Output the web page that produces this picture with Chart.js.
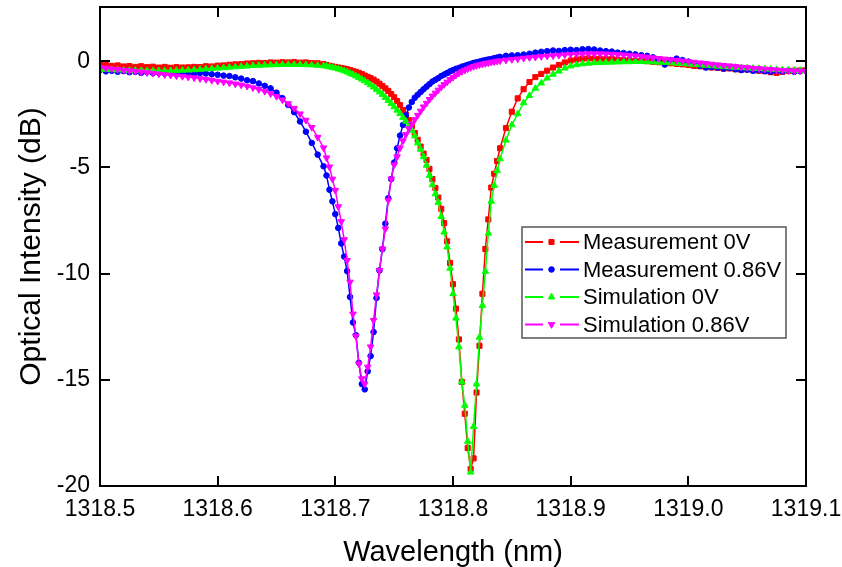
<!DOCTYPE html>
<html>
<head>
<meta charset="utf-8">
<title>Optical Intensity vs Wavelength</title>
<script src="https://cdn.jsdelivr.net/npm/chart.js@4.4.1/dist/chart.umd.min.js"></script>
<style>
  html, body { margin: 0; padding: 0; background: #fff; }
  #spectrum { display: block; }
</style>
</head>
<body>
<canvas id="spectrum" width="842" height="567"></canvas>
<script>
// Resonance dips at 0 V and 0.86 V bias, measured and simulated (dB)

const wavelength = [
  1318.500, 1318.505, 1318.510, 1318.515, 1318.520, 1318.525, 1318.530, 1318.535, 1318.540, 1318.545,
  1318.550, 1318.555, 1318.560, 1318.565, 1318.570, 1318.575, 1318.580, 1318.585, 1318.590, 1318.595,
  1318.600, 1318.605, 1318.610, 1318.615, 1318.620, 1318.625, 1318.630, 1318.635, 1318.640, 1318.645,
  1318.650, 1318.655, 1318.660, 1318.665, 1318.670, 1318.675, 1318.680, 1318.685, 1318.690,
  // finer sampling across both dips
  1318.6925, 1318.6950, 1318.6975, 1318.7000, 1318.7025, 1318.7050, 1318.7075, 1318.7100, 1318.7125, 1318.7150,
  1318.7175, 1318.7200, 1318.7225, 1318.7250, 1318.7275, 1318.7300, 1318.7325, 1318.7350, 1318.7375, 1318.7400,
  1318.7425, 1318.7450, 1318.7475, 1318.7500, 1318.7525, 1318.7550, 1318.7575, 1318.7600, 1318.7625, 1318.7650,
  1318.7675, 1318.7700, 1318.7725, 1318.7750, 1318.7775, 1318.7800, 1318.7825, 1318.7850, 1318.7875, 1318.7900,
  1318.7925, 1318.7950, 1318.7975, 1318.8000, 1318.8025, 1318.8050, 1318.8075, 1318.8100, 1318.8125, 1318.8150,
  1318.8175, 1318.8200, 1318.8225, 1318.8250, 1318.8275, 1318.8300, 1318.8325, 1318.8350, 1318.8375, 1318.8400,
  1318.845, 1318.850, 1318.855, 1318.860, 1318.865, 1318.870, 1318.875, 1318.880, 1318.885, 1318.890,
  1318.895, 1318.900, 1318.905, 1318.910, 1318.915, 1318.920, 1318.925, 1318.930, 1318.935, 1318.940,
  1318.945, 1318.950, 1318.955, 1318.960, 1318.965, 1318.970, 1318.975, 1318.980, 1318.985, 1318.990,
  1318.995, 1319.000, 1319.005, 1319.010, 1319.015, 1319.020, 1319.025, 1319.030, 1319.035, 1319.040,
  1319.045, 1319.050, 1319.055, 1319.060, 1319.065, 1319.070, 1319.075, 1319.080, 1319.085, 1319.090,
  1319.095, 1319.100
];

const measured0V = [
  -0.12, -0.18, -0.22, -0.20, -0.25, -0.23, -0.27, -0.24, -0.28, -0.26,
  -0.30, -0.27, -0.31, -0.28, -0.30, -0.29, -0.27, -0.28, -0.24, -0.25,
  -0.21, -0.20, -0.17, -0.15, -0.14, -0.11, -0.10, -0.08, -0.09, -0.06,
  -0.07, -0.05, -0.06, -0.04, -0.07, -0.06, -0.09, -0.10, -0.14,
  -0.18, -0.22, -0.25, -0.27, -0.30, -0.32, -0.35, -0.38, -0.42, -0.46,
  -0.50, -0.55, -0.61, -0.68, -0.74, -0.80, -0.87, -0.96, -1.06, -1.17,
  -1.28, -1.40, -1.55, -1.70, -1.88, -2.07, -2.30, -2.52, -2.78, -3.06,
  -3.38, -3.70, -4.02, -4.35, -4.65, -5.07, -5.55, -5.97, -6.42, -6.95,
  -7.62, -8.48, -9.50, -10.50, -11.65, -13.10, -15.10, -16.60, -18.21, -19.20,
  -18.70, -15.60, -13.40, -10.95, -8.84, -7.45, -5.95, -5.30, -4.70, -4.10,
  -3.15, -2.38, -1.75, -1.32, -0.98, -0.75, -0.60, -0.45, -0.30, -0.18,
  -0.06, 0.03, 0.08, 0.12, 0.13, 0.12, 0.11, 0.09, 0.10, 0.07,
  0.05, 0.04, 0.02, 0.01, 0.00, -0.03, -0.05, -0.08, -0.10, -0.13,
  -0.15, -0.18, -0.22, -0.24, -0.28, -0.30, -0.32, -0.35, -0.34, -0.38,
  -0.40, -0.39, -0.43, -0.45, -0.47, -0.52, -0.55, -0.50, -0.46, -0.45,
  -0.44, -0.43
];

const measured086V = [
  -0.42, -0.48, -0.45, -0.50, -0.47, -0.52, -0.50, -0.55, -0.52, -0.56,
  -0.55, -0.58, -0.56, -0.60, -0.58, -0.62, -0.60, -0.56, -0.58, -0.62,
  -0.64, -0.68, -0.70, -0.76, -0.82, -0.90, -0.94, -1.05, -1.16, -1.28,
  -1.48, -1.74, -2.06, -2.40, -2.84, -3.32, -3.85, -4.40, -4.95,
  -5.38, -6.05, -6.60, -7.20, -7.85, -8.58, -9.20, -9.88, -11.10, -12.30,
  -12.90, -14.20, -15.20, -15.45, -14.60, -13.88, -12.75, -11.15, -9.85, -8.85,
  -7.65, -6.45, -5.55, -4.77, -4.10, -3.50, -3.00, -2.55, -2.18, -1.92,
  -1.72, -1.58, -1.45, -1.32, -1.20, -1.08, -0.96, -0.88, -0.80, -0.70,
  -0.63, -0.56, -0.48, -0.42, -0.36, -0.32, -0.26, -0.22, -0.17, -0.13,
  -0.08, -0.05, -0.02, 0.02, 0.05, 0.08, 0.10, 0.14, 0.17, 0.20,
  0.25, 0.27, 0.28, 0.31, 0.35, 0.40, 0.44, 0.47, 0.50, 0.48,
  0.52, 0.54, 0.52, 0.56, 0.57, 0.55, 0.50, 0.47, 0.45, 0.40,
  0.38, 0.35, 0.32, 0.28, 0.25, 0.18, 0.02, -0.16, 0.05, 0.12,
  0.05, -0.02, -0.10, -0.22, -0.30, -0.28, -0.30, -0.35, -0.33, -0.38,
  -0.42, -0.40, -0.45, -0.43, -0.47, -0.50, -0.46, -0.48, -0.44, -0.50,
  -0.47, -0.45
];

const simulated0V = [
  -0.38, -0.39, -0.40, -0.41, -0.42, -0.43, -0.44, -0.44, -0.45, -0.45,
  -0.45, -0.45, -0.45, -0.44, -0.43, -0.42, -0.41, -0.39, -0.37, -0.35,
  -0.33, -0.31, -0.29, -0.27, -0.25, -0.23, -0.21, -0.20, -0.19, -0.18,
  -0.17, -0.16, -0.16, -0.16, -0.16, -0.17, -0.18, -0.20, -0.22,
  -0.24, -0.27, -0.30, -0.33, -0.37, -0.41, -0.46, -0.51, -0.57, -0.63,
  -0.70, -0.77, -0.85, -0.93, -1.02, -1.12, -1.22, -1.33, -1.45, -1.57,
  -1.71, -1.85, -2.00, -2.15, -2.31, -2.47, -2.65, -2.83, -3.03, -3.25,
  -3.52, -3.85, -4.15, -4.50, -4.90, -5.38, -5.82, -6.25, -6.65, -7.32,
  -8.05, -8.75, -9.75, -10.95, -12.10, -13.45, -15.10, -16.20, -17.90, -19.35,
  -17.20, -15.20, -13.00, -11.50, -9.90, -8.10, -6.60, -5.85, -5.15, -4.60,
  -3.72, -3.00, -2.48, -1.96, -1.62, -1.28, -1.03, -0.80, -0.62, -0.47,
  -0.33, -0.23, -0.17, -0.13, -0.10, -0.08, -0.07, -0.06, -0.05, -0.04,
  -0.03, -0.03, -0.02, -0.02, -0.03, -0.04, -0.05, -0.06, -0.08, -0.10,
  -0.12, -0.14, -0.16, -0.18, -0.20, -0.22, -0.24, -0.26, -0.28, -0.29,
  -0.31, -0.32, -0.34, -0.35, -0.37, -0.38, -0.40, -0.41, -0.42, -0.43,
  -0.44, -0.45
];

const simulated086V = [
  -0.30, -0.33, -0.36, -0.39, -0.42, -0.45, -0.48, -0.51, -0.54, -0.57,
  -0.60, -0.63, -0.66, -0.69, -0.72, -0.75, -0.78, -0.82, -0.86, -0.90,
  -0.94, -0.98, -1.02, -1.07, -1.12, -1.18, -1.25, -1.33, -1.42, -1.53,
  -1.66, -1.82, -2.00, -2.22, -2.48, -2.78, -3.12, -3.58, -4.08,
  -4.55, -4.98, -5.55, -6.08, -6.85, -7.55, -8.40, -9.38, -10.40, -11.90,
  -12.95, -14.25, -14.95, -15.20, -14.40, -13.45, -12.20, -11.00, -9.85, -8.84,
  -7.90, -6.55, -5.55, -4.88, -4.50, -4.08, -3.75, -3.45, -3.18, -2.95,
  -2.75, -2.55, -2.35, -2.15, -1.98, -1.80, -1.64, -1.50, -1.36, -1.22,
  -1.10, -0.98, -0.86, -0.76, -0.66, -0.57, -0.49, -0.42, -0.36, -0.30,
  -0.25, -0.21, -0.17, -0.14, -0.11, -0.08, -0.05, -0.03, 0.00, 0.02,
  0.05, 0.08, 0.11, 0.14, 0.17, 0.19, 0.22, 0.24, 0.26, 0.28,
  0.30, 0.32, 0.33, 0.34, 0.35, 0.35, 0.35, 0.34, 0.33, 0.31,
  0.29, 0.27, 0.25, 0.22, 0.19, 0.16, 0.13, 0.10, 0.07, 0.04,
  0.01, -0.02, -0.05, -0.08, -0.11, -0.14, -0.17, -0.20, -0.22, -0.25,
  -0.28, -0.30, -0.33, -0.35, -0.37, -0.39, -0.41, -0.43, -0.45, -0.46,
  -0.47, -0.48
];

const xTicks = [1318.5, 1318.6, 1318.7, 1318.8, 1318.9, 1319.0, 1319.1];
const yTicks = [-20, -15, -10, -5, 0];
const seriesNames = ["Measurement 0V", "Measurement 0.86V", "Simulation 0V", "Simulation 0.86V"];

const FONT = "Arial, 'Liberation Sans', sans-serif";
const TICK_LEN = 10;

function toPoints(values) {
  return wavelength.map((x, i) => ({ x: x, y: values[i] }));
}

function makeSeries(label, values, color, pointStyle, radius, rotation, order) {
  return {
    label: label,
    data: toPoints(values),
    showLine: true,
    borderColor: color,
    borderWidth: 1.5,
    backgroundColor: color,
    pointBackgroundColor: color,
    pointBorderColor: color,
    pointBorderWidth: 1,
    pointStyle: pointStyle,
    pointRadius: radius,
    pointRotation: rotation,
    tension: 0,
    order: order, // simulations are drawn over the measurements
  };
}

// closed black frame with inward ticks on all four sides
const frameTicks = {
  id: "frameTicks",
  afterDatasetsDraw(chart) {
    const { ctx, chartArea, scales } = chart;
    const { left, right, top, bottom } = chartArea;
    ctx.save();
    ctx.strokeStyle = "#000";
    ctx.lineWidth = 2;
    ctx.strokeRect(left, top, right - left, bottom - top);
    ctx.beginPath();
    xTicks.forEach((v) => {
      const px = Math.round(scales.x.getPixelForValue(v));
      ctx.moveTo(px, bottom);
      ctx.lineTo(px, bottom - TICK_LEN);
      ctx.moveTo(px, top);
      ctx.lineTo(px, top + TICK_LEN);
    });
    yTicks.forEach((v) => {
      const py = Math.round(scales.y.getPixelForValue(v));
      ctx.moveTo(left, py);
      ctx.lineTo(left + TICK_LEN, py);
      ctx.moveTo(right, py);
      ctx.lineTo(right - TICK_LEN, py);
    });
    ctx.stroke();
    ctx.restore();
  },
};

// boxed legend inside the plot: line - marker - line, then the name
const boxLegend = {
  id: "boxLegend",
  afterDraw(chart) {
    const ctx = chart.ctx;
    const box = { x: 522, y: 227, w: 264, h: 111 };
    ctx.save();
    ctx.fillStyle = "#fff";
    ctx.fillRect(box.x, box.y, box.w, box.h);
    ctx.strokeStyle = "#555";
    ctx.lineWidth = 1.5;
    ctx.strokeRect(box.x, box.y, box.w, box.h);

    chart.data.datasets.forEach((ds, i) => {
      const cy = box.y + 15 + i * 27.5;
      const x0 = box.x + 3;
      ctx.strokeStyle = ds.borderColor;
      ctx.lineWidth = 2;
      ctx.beginPath();
      ctx.moveTo(x0, cy);
      ctx.lineTo(x0 + 18, cy);
      ctx.moveTo(x0 + 35, cy);
      ctx.lineTo(x0 + 54, cy);
      ctx.stroke();

      ctx.fillStyle = ds.pointBackgroundColor;
      ctx.lineWidth = 1;
      Chart.helpers.drawPoint(ctx, {
        pointStyle: ds.pointStyle,
        rotation: ds.pointRotation,
        radius: ds.pointRadius,
        borderWidth: 1,
      }, x0 + 26.5, cy);

      ctx.fillStyle = "#000";
      ctx.font = "22px " + FONT;
      ctx.textAlign = "left";
      ctx.textBaseline = "middle";
      ctx.fillText(ds.label, x0 + 58, cy + 1);
    });
    ctx.restore();
  },
};

Chart.defaults.font.family = FONT;
Chart.defaults.color = "#000";

new Chart(document.getElementById("spectrum"), {
  type: "scatter",
  data: {
    datasets: [
      makeSeries(seriesNames[0], measured0V, "#ff0000", "rect", 3.6, 0, 4),
      makeSeries(seriesNames[1], measured086V, "#0000ff", "circle", 2.8, 0, 3),
      makeSeries(seriesNames[2], simulated0V, "#00ff00", "triangle", 3.8, 0, 2),
      makeSeries(seriesNames[3], simulated086V, "#ff00ff", "triangle", 3.8, 180, 1),
    ],
  },
  options: {
    responsive: false,
    animation: false,
    events: [],
    layout: { padding: { left: 0, top: 7, right: 36, bottom: 0 } },
    plugins: {
      legend: { display: false },
      tooltip: { enabled: false },
    },
    scales: {
      x: {
        type: "linear",
        min: 1318.5,
        max: 1319.1,
        afterBuildTicks: (scale) => {
          scale.ticks = xTicks.map((v) => ({ value: v }));
        },
        afterFit: (scale) => {
          scale.height = 81;
          scale.paddingLeft = 0;
          scale.paddingRight = 0;
        },
        grid: { display: false, drawTicks: false },
        border: { display: false },
        ticks: {
          padding: 10,
          maxRotation: 0,
          font: { size: 23 },
          callback: (v) => Number(v).toFixed(1),
        },
        title: {
          display: true,
          text: "Wavelength (nm)",
          font: { size: 29, lineHeight: 1 },
          padding: { top: 0, bottom: 0 },
        },
      },
      y: {
        min: -20,
        max: 2.55,
        afterBuildTicks: (scale) => {
          scale.ticks = yTicks.map((v) => ({ value: v }));
        },
        afterFit: (scale) => {
          scale.width = 100;
          scale.paddingTop = 0;
          scale.paddingBottom = 0;
        },
        grid: { display: false, drawTicks: false },
        border: { display: false },
        ticks: {
          padding: 10,
          font: { size: 23 },
          callback: (v) => String(v),
        },
        title: {
          display: true,
          text: "Optical Intensity (dB)",
          font: { size: 30, lineHeight: 1 },
          padding: { top: 17, bottom: 0 },
        },
      },
    },
  },
  plugins: [frameTicks, boxLegend],
});
</script>
</body>
</html>
